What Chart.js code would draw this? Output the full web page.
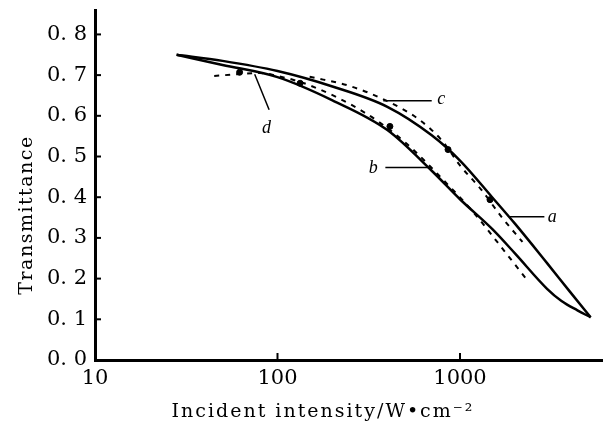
<!DOCTYPE html>
<html lang="en">
<head>
<meta charset="UTF-8">
<title>Transmittance vs incident intensity</title>
<script src="https://cdn.jsdelivr.net/npm/chart.js"></script>
<style>
  html, body { margin: 0; padding: 0; background: #fff; }
  #wrap { width: 611px; height: 425px; }
</style>
</head>
<body>
<div id="wrap"><canvas id="chart"></canvas></div>
<script>
// data: [intensity W/cm^2, transmittance]
const curveA = [[28, 0.75], [50, 0.735], [100, 0.71], [200, 0.672], [400, 0.622], [700, 0.552], [1000, 0.49], [1500, 0.40], [2000, 0.335], [3000, 0.238], [4000, 0.168], [5200, 0.105]];
const curveB = [[28, 0.75], [50, 0.725], [100, 0.695], [200, 0.638], [400, 0.565], [700, 0.465], [1000, 0.395], [1500, 0.322], [2000, 0.262], [3000, 0.175], [3600, 0.145], [4400, 0.122], [5200, 0.105]];
const curveC = [[150, 0.696], [250, 0.673], [400, 0.636], [600, 0.59], [800, 0.538], [1000, 0.478], [1300, 0.42], [1700, 0.35], [2200, 0.29]];
const curveD = [[45, 0.698], [60, 0.702], [80, 0.705], [100, 0.698], [150, 0.675], [300, 0.608], [500, 0.535], [800, 0.445], [1200, 0.36], [1600, 0.29], [2300, 0.2]];
const dots = [[62, 0.707], [133, 0.68], [413, 0.574], [860, 0.517], [1460, 0.394]];

const yTicks = [0, 0.1, 0.2, 0.3, 0.4, 0.5, 0.6, 0.7, 0.8];
const xTicks = [10, 100, 1000];
const xTitle = 'Incident intensity/W\u2022cm\u207B\u00B2';
const yTitle = 'Transmittance';

// curve labels: text, text position, leader line from -> to
const curveLabels = [
  { text: 'a', at: [3200, 0.35], from: [1880, 0.352], to: [2900, 0.352] },
  { text: 'b', at: [335, 0.472], from: [390, 0.473], to: [690, 0.473] },
  { text: 'c', at: [790, 0.64], from: [380, 0.637], to: [700, 0.637] },
  { text: 'd', at: [87, 0.57], from: [75, 0.702], to: [90, 0.615] }
];

const FONT = '"DejaVu Serif", "Liberation Serif", serif';
const toXY = arr => arr.map(p => ({ x: p[0], y: p[1] }));

const solid = (data) => ({
  data: toXY(data), borderColor: '#000', borderWidth: 2.5, pointRadius: 0,
  cubicInterpolationMode: 'monotone', fill: false
});
const dashed = (data) => ({
  data: toXY(data), borderColor: '#000', borderWidth: 2, borderDash: [5, 6], pointRadius: 0,
  cubicInterpolationMode: 'monotone', fill: false
});

const labelPlugin = {
  id: 'curveLabels',
  afterDatasetsDraw(chart) {
    const { ctx, scales: { x, y } } = chart;
    ctx.save();
    ctx.strokeStyle = '#000';
    ctx.lineWidth = 1.5;
    ctx.fillStyle = '#000';
    ctx.font = 'italic 18px "Liberation Serif", serif';
    ctx.textAlign = 'center';
    ctx.textBaseline = 'middle';
    curveLabels.forEach(l => {
      ctx.beginPath();
      ctx.moveTo(x.getPixelForValue(l.from[0]), y.getPixelForValue(l.from[1]));
      ctx.lineTo(x.getPixelForValue(l.to[0]), y.getPixelForValue(l.to[1]));
      ctx.stroke();
      ctx.fillText(l.text, x.getPixelForValue(l.at[0]), y.getPixelForValue(l.at[1]));
    });
    // inward tick marks
    ctx.lineWidth = 2;
    const left = chart.chartArea.left, bottom = chart.chartArea.bottom;
    yTicks.slice(1).forEach(v => {
      const py = y.getPixelForValue(v);
      ctx.beginPath(); ctx.moveTo(left, py); ctx.lineTo(left + 6, py); ctx.stroke();
    });
    xTicks.slice(1).forEach(v => {
      const px = x.getPixelForValue(v);
      ctx.beginPath(); ctx.moveTo(px, bottom); ctx.lineTo(px, bottom - 7); ctx.stroke();
    });
    // axis titles, wide-set like the original print
    ctx.font = '19px ' + FONT;
    ctx.letterSpacing = '2px';
    ctx.fillText(xTitle, 323, 412);
    ctx.letterSpacing = '1.5px';
    ctx.translate(27, 215);
    ctx.rotate(-Math.PI / 2);
    ctx.fillText(yTitle, 0, 0);
    ctx.restore();
  }
};

new Chart(document.getElementById('chart'), {
  type: 'line',
  data: {
    datasets: [
      solid(curveA),
      solid(curveB),
      dashed(curveC),
      dashed(curveD),
      { type: 'scatter', data: toXY(dots), backgroundColor: '#000', borderColor: '#000', pointRadius: 3 }
    ]
  },
  options: {
    responsive: true,
    maintainAspectRatio: false,
    animation: false,
    layout: { padding: { top: 10, right: 9, left: 0, bottom: 0 } },
    plugins: { legend: { display: false }, tooltip: { enabled: false } },
    scales: {
      x: {
        type: 'logarithmic',
        min: 10, max: 6000,
        afterBuildTicks: s => { s.ticks = xTicks.map(v => ({ value: v })); },
        afterFit: s => { s.height = 65; s.paddingLeft = 0; s.paddingRight = 0; },
        grid: { display: true, drawOnChartArea: false, drawTicks: false },
        border: { display: true, color: '#000', width: 3 },
        ticks: {
          color: '#000', padding: 6,
          font: { family: FONT, size: 21 },
          callback: v => String(v)
        }
      },
      y: {
        min: 0, max: 0.86,
        afterBuildTicks: s => { s.ticks = yTicks.map(v => ({ value: v })); },
        afterFit: s => { s.width = 95; s.paddingTop = 0; s.paddingBottom = 0; },
        grid: { display: true, drawOnChartArea: false, drawTicks: false },
        border: { display: true, color: '#000', width: 3 },
        ticks: {
          color: '#000', padding: 8,
          font: { family: FONT, size: 21 },
          callback: v => '0. ' + Math.round(v * 10)
        }
      }
    }
  },
  plugins: [labelPlugin]
});
</script>
</body>
</html>
